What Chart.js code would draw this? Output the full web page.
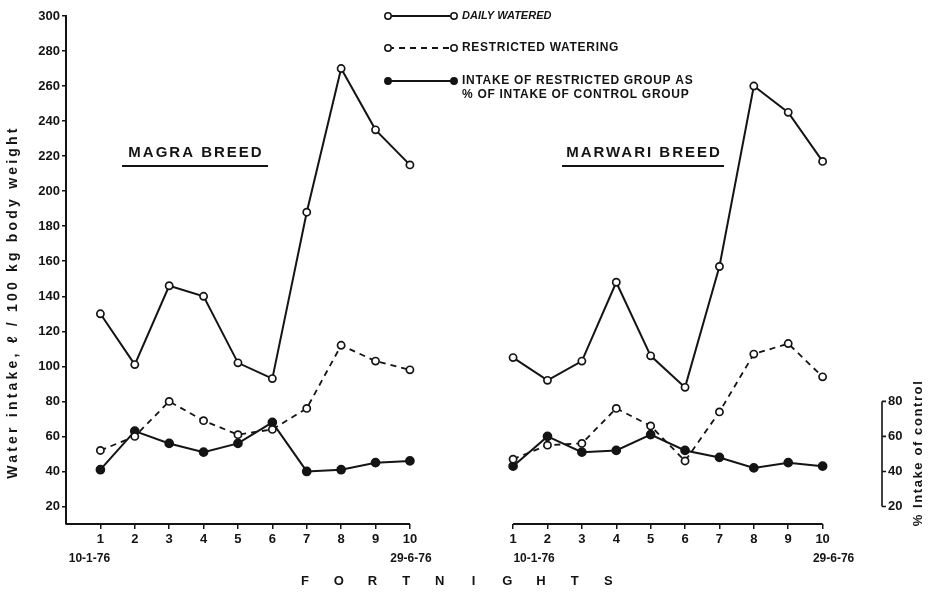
<!DOCTYPE html>
<html>
<head>
<meta charset="utf-8">
<script src="https://cdn.jsdelivr.net/npm/chart.js@4.4.1/dist/chart.umd.min.js"></script>
<style>
  html, body { margin: 0; padding: 0; background: #fff; }
  #chart { display: block; }
</style>
</head>
<body>
<canvas id="chart" width="932" height="594"></canvas>
<script>
// fortnight numbers, the Marwari panel sits 12 units to the right on the shared x scale
const fortnights = [1, 2, 3, 4, 5, 6, 7, 8, 9, 10];
const panelOffset = 12;

const magraDaily = [130, 101, 146, 140, 102, 93, 188, 270, 235, 215];
const magraRestricted = [52, 60, 80, 69, 61, 64, 76, 112, 103, 98];
const magraPercent = [41, 63, 56, 51, 56, 68, 40, 41, 45, 46];

const marwariDaily = [105, 92, 103, 148, 106, 88, 157, 260, 245, 217];
const marwariRestricted = [47, 55, 56, 76, 66, 46, 74, 107, 113, 94];
const marwariPercent = [43, 60, 51, 52, 61, 52, 48, 42, 45, 43];

const yTicks = [20, 40, 60, 80, 100, 120, 140, 160, 180, 200, 220, 240, 260, 280, 300];
const pctTicks = [20, 40, 60, 80];
const startDate = "10-1-76";
const endDate = "29-6-76";
const panelTitles = ["MAGRA BREED", "MARWARI BREED"];
const legendLabels = [
    ["DAILY WATERED"],
    ["RESTRICTED WATERING"],
    ["INTAKE OF RESTRICTED GROUP AS", "% OF INTAKE OF CONTROL GROUP"]
];
const yTitle = "Water intake, \u2113 / 100 kg body weight";
const pctTitle = "% Intake of control";
const xTitle = "FORTNIGHTS";

const INK = "#141414";
const FONT = "'Liberation Sans', Arial, sans-serif";

function buildSeries(left, right) {
    const pts = left.map((v, i) => ({ x: fortnights[i], y: v }));
    pts.push({ x: 11.5, y: null }); // break between the two panels
    right.forEach((v, i) => pts.push({ x: fortnights[i] + panelOffset, y: v }));
    return pts;
}

const styles = [
    { dash: [], fill: "#fff", width: 2 },
    { dash: [6, 5], fill: "#fff", width: 1.8 },
    { dash: [], fill: INK, width: 2 }
];

const datasets = [
    buildSeries(magraDaily, marwariDaily),
    buildSeries(magraRestricted, marwariRestricted),
    buildSeries(magraPercent, marwariPercent)
].map((pts, i) => ({
    data: pts,
    borderColor: INK,
    borderWidth: styles[i].width,
    borderDash: styles[i].dash,
    pointRadius: i === 2 ? 4 : 3.6,
    pointBorderWidth: 1.7,
    pointBackgroundColor: styles[i].fill,
    pointBorderColor: INK,
    spanGaps: false,
    tension: 0
}));

function drawMarker(ctx, x, y, filled) {
    ctx.beginPath();
    ctx.arc(x, y, 3.2, 0, Math.PI * 2);
    ctx.fillStyle = filled ? INK : "#fff";
    ctx.fill();
    ctx.lineWidth = 1.5;
    ctx.setLineDash([]);
    ctx.strokeStyle = INK;
    ctx.stroke();
}

const extras = {
    id: "extras",
    beforeDraw(chart) {
        const ctx = chart.ctx;
        ctx.save();
        ctx.fillStyle = "#fff";
        ctx.fillRect(0, 0, chart.width, chart.height);
        ctx.restore();
    },
    afterDraw(chart) {
        const ctx = chart.ctx;
        const xs = chart.scales.x;
        const ys = chart.scales.y;
        const area = chart.chartArea;
        ctx.save();
        ctx.strokeStyle = INK;
        ctx.fillStyle = INK;

        // split x axis lines
        ctx.lineWidth = 2;
        ctx.beginPath();
        ctx.moveTo(area.left, area.bottom);
        ctx.lineTo(xs.getPixelForValue(10), area.bottom);
        ctx.moveTo(xs.getPixelForValue(1 + panelOffset), area.bottom);
        ctx.lineTo(xs.getPixelForValue(10 + panelOffset), area.bottom);
        ctx.stroke();

        // dates under first and last fortnight
        ctx.font = "bold 12px " + FONT;
        ctx.textAlign = "center";
        ctx.textBaseline = "middle";
        ctx.fillText(startDate, xs.getPixelForValue(1) - 11, 559);
        ctx.fillText(endDate, xs.getPixelForValue(10) + 1, 559);
        ctx.fillText(startDate, xs.getPixelForValue(1 + panelOffset) + 21, 559);
        ctx.fillText(endDate, xs.getPixelForValue(10 + panelOffset) + 11, 559);

        // spaced-out x title
        ctx.font = "bold 13px " + FONT;
        xTitle.split("").forEach((ch, i) => {
            ctx.fillText(ch, 305 + i * 33.7, 581);
        });

        // panel titles with underline
        ctx.font = "bold 15px " + FONT;
        ctx.letterSpacing = "2px";
        const centers = [195, 643];
        const halfLines = [73, 81];
        panelTitles.forEach((t, i) => {
            ctx.fillText(t, centers[i] + 1, 153);
            ctx.lineWidth = 2;
            ctx.beginPath();
            ctx.moveTo(centers[i] - halfLines[i], 166);
            ctx.lineTo(centers[i] + halfLines[i], 166);
            ctx.stroke();
        });
        ctx.letterSpacing = "0px";

        // legend
        const rows = [16, 48, 81];
        legendLabels.forEach((lines, i) => {
            const y = rows[i];
            ctx.lineWidth = styles[i].width;
            ctx.setLineDash(styles[i].dash);
            ctx.beginPath();
            ctx.moveTo(388, y);
            ctx.lineTo(454, y);
            ctx.stroke();
            ctx.setLineDash([]);
            drawMarker(ctx, 388, y, i === 2);
            drawMarker(ctx, 454, y, i === 2);
            ctx.fillStyle = INK;
            ctx.font = i === 0 ? "italic bold 11px " + FONT : "bold 12px " + FONT;
            ctx.letterSpacing = i === 0 ? "0px" : "0.7px";
            ctx.textAlign = "left";
            lines.forEach((ln, j) => ctx.fillText(ln, 462, y + j * 14));
        });
        ctx.letterSpacing = "0px";

        // y title
        ctx.font = "bold 14px " + FONT;
        ctx.textAlign = "center";
        ctx.save();
        ctx.translate(13, 302);
        ctx.rotate(-Math.PI / 2);
        ctx.letterSpacing = "3.2px";
        ctx.fillText(yTitle, 0, 0);
        ctx.restore();

        // bracket axis for % intake of control
        const bx = 882;
        const top = ys.getPixelForValue(pctTicks[pctTicks.length - 1]);
        const bot = ys.getPixelForValue(pctTicks[0]);
        ctx.lineWidth = 1.6;
        ctx.beginPath();
        ctx.moveTo(bx, top);
        ctx.lineTo(bx, bot);
        pctTicks.forEach(v => {
            const py = ys.getPixelForValue(v);
            ctx.moveTo(bx, py);
            ctx.lineTo(bx + 4, py);
        });
        ctx.stroke();
        ctx.font = "bold 13px " + FONT;
        ctx.textAlign = "left";
        pctTicks.forEach(v => ctx.fillText(String(v), bx + 6, ys.getPixelForValue(v)));

        ctx.save();
        ctx.translate(918, 453);
        ctx.rotate(-Math.PI / 2);
        ctx.textAlign = "center";
        ctx.font = "bold 13px " + FONT;
        ctx.letterSpacing = "1.6px";
        ctx.fillText(pctTitle, 0, 0);
        ctx.restore();

        ctx.restore();
    }
};

const xTickValues = fortnights.concat(fortnights.map(f => f + panelOffset));

new Chart(document.getElementById("chart"), {
    type: "line",
    data: { datasets: datasets },
    options: {
        responsive: false,
        animation: false,
        layout: { padding: { top: 16, right: 75, bottom: 0, left: 0 } },
        plugins: { legend: { display: false }, tooltip: { enabled: false } },
        scales: {
            x: {
                type: "linear",
                min: 0,
                max: 23,
                afterBuildTicks: s => { s.ticks = xTickValues.map(v => ({ value: v })); },
                afterFit: s => { s.height = 70; },
                ticks: {
                    autoSkip: false,
                    maxRotation: 0,
                    color: INK,
                    font: { family: FONT, size: 13, weight: "bold" },
                    padding: 3,
                    callback: v => String(v > panelOffset ? v - panelOffset : v)
                },
                grid: { drawOnChartArea: false, tickLength: 5, color: INK, lineWidth: 1.5 },
                border: { display: false }
            },
            y: {
                min: 10,
                max: 300,
                afterBuildTicks: s => { s.ticks = yTicks.map(v => ({ value: v })); },
                afterFit: s => { s.width = 66; },
                ticks: {
                    color: INK,
                    font: { family: FONT, size: 13, weight: "bold" },
                    padding: 2
                },
                grid: { drawOnChartArea: false, tickLength: 4, color: INK, lineWidth: 1.5 },
                border: { display: true, color: INK, width: 2 }
            }
        }
    },
    plugins: [extras]
});
</script>
</body>
</html>
